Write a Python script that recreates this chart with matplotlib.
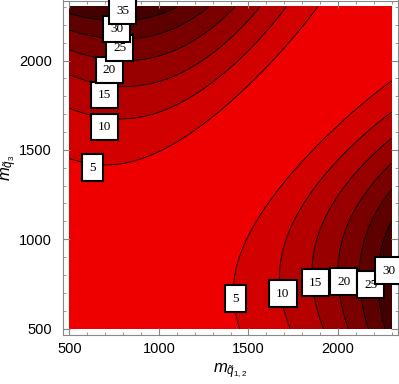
import matplotlib
matplotlib.use('Agg')
import matplotlib.pyplot as plt
import numpy as np
from matplotlib.ticker import MultipleLocator

plt.rcParams['font.family'] = ['Liberation Sans', 'DejaVu Sans']
plt.rcParams['mathtext.fontset'] = 'custom'
plt.rcParams['mathtext.it'] = 'Liberation Sans:italic'
plt.rcParams['mathtext.rm'] = 'Liberation Sans'

# points on the contour lines: (m_q12, m_q3, level)
pt_x = [500, 500, 500, 500, 500, 500,
        628, 685, 847, 1176, 1501, 1898,
        1713, 1562, 1411, 1266,
        696, 696, 724, 780, 763, 796,
        1489, 1428, 1422, 1579, 1853, 2026, 2300,
        1691, 1875, 2032, 2183, 2283,
        1760, 1925, 2075, 2180]
pt_y = [1490, 1741, 1909, 2043, 2143, 2266,
        1400, 1394, 1422, 1579, 1853, 2300,
        2300, 2300, 2300, 2300,
        1629, 1808, 1948, 2071, 2177, 2278,
        500, 668, 780, 1100, 1501, 1612, 1898,
        696, 757, 763, 746, 824,
        500, 500, 500, 500]
pt_lev = [5, 10, 15, 20, 25, 30,
          5, 5, 5, 5, 5, 5,
          10, 15, 20, 25,
          10, 15, 20, 25, 30, 35,
          5, 5, 5, 5, 5, 5, 5,
          10, 15, 20, 25, 30,
          10, 15, 20, 25]

levels = [5, 10, 15, 20, 25, 30, 35]
band_colors = ['#ee0000', '#d30000', '#b60000', '#980000',
               '#7a0000', '#5e0000', '#430000', '#2a0000']

# where the boxed labels sit
label_x = [628, 696, 696, 724, 780, 763, 796, 1428, 1691, 1875, 2032, 2183, 2283]
label_y = [1400, 1629, 1808, 1948, 2071, 2177, 2278, 668, 696, 757, 763, 746, 824]
label_lev = [5, 10, 15, 20, 25, 30, 35, 5, 10, 15, 20, 25, 30]


def basis(m, M):
    s = (m - 1000.) / 1000.
    t = (M - 1800.) / 1000.
    return np.stack([np.ones_like(s), s, t, s * s, s * t, t * t], axis=-1)


# smooth surface through the read points: level = K(m,M) * (M^2 - m^2)^2
px = np.array(pt_x, float)
py = np.array(pt_y, float)
lo, hi = np.minimum(px, py), np.maximum(px, py)
target = np.log(np.array(pt_lev, float) / ((hi ** 2 - lo ** 2) / 1e6) ** 2)
coef = np.linalg.lstsq(basis(lo, hi), target, rcond=None)[0]

g = np.linspace(500, 2300, 361)
X, Y = np.meshgrid(g, g)
Lo, Hi = np.minimum(X, Y), np.maximum(X, Y)
F = np.exp(basis(Lo, Hi) @ coef) * ((Hi ** 2 - Lo ** 2) / 1e6) ** 2

fig = plt.figure(figsize=(3.99, 3.84), dpi=100)
ax = fig.add_axes([63 / 399, 49 / 384, 335 / 399, 334.5 / 384])

ax.contourf(X, Y, F, levels=[0] + levels + [1000], colors=band_colors)
cs = ax.contour(X, Y, F, levels=levels, colors='k', linewidths=0.6)

for lx, ly, lv in zip(label_x, label_y, label_lev):
    ax.text(lx, ly, str(lv), ha='center', va='center', fontsize=9.5,
            family=['Liberation Serif', 'DejaVu Serif'], zorder=5,
            bbox=dict(boxstyle='square,pad=0.55', fc='white', ec='black', lw=1.5))

ax.set_xlim(464, 2336)
ax.set_ylim(464, 2336)
ax.xaxis.set_major_locator(MultipleLocator(500))
ax.yaxis.set_major_locator(MultipleLocator(500))
ax.xaxis.set_minor_locator(MultipleLocator(100))
ax.yaxis.set_minor_locator(MultipleLocator(100))
ax.tick_params(which='both', direction='in', top=True, right=True,
               color='#888888', labelsize=10.5, labelcolor='black')
ax.tick_params(which='major', length=5, width=0.8)
ax.tick_params(which='minor', length=2.5, width=0.6)
ax.tick_params(axis='y', pad=8)
ax.tick_params(axis='x', pad=5)
for sp in ax.spines.values():
    sp.set_color('#888888')
    sp.set_linewidth(0.8)

ax.set_xlabel(r'$m_{\tilde{q}_{1,2}}$', fontsize=12, labelpad=4)
ax.set_ylabel(r'$m_{\tilde{q}_3}$', fontsize=12)
ax.yaxis.set_label_coords(-0.13, 0.5)

fig.savefig('out.png', dpi=100)
